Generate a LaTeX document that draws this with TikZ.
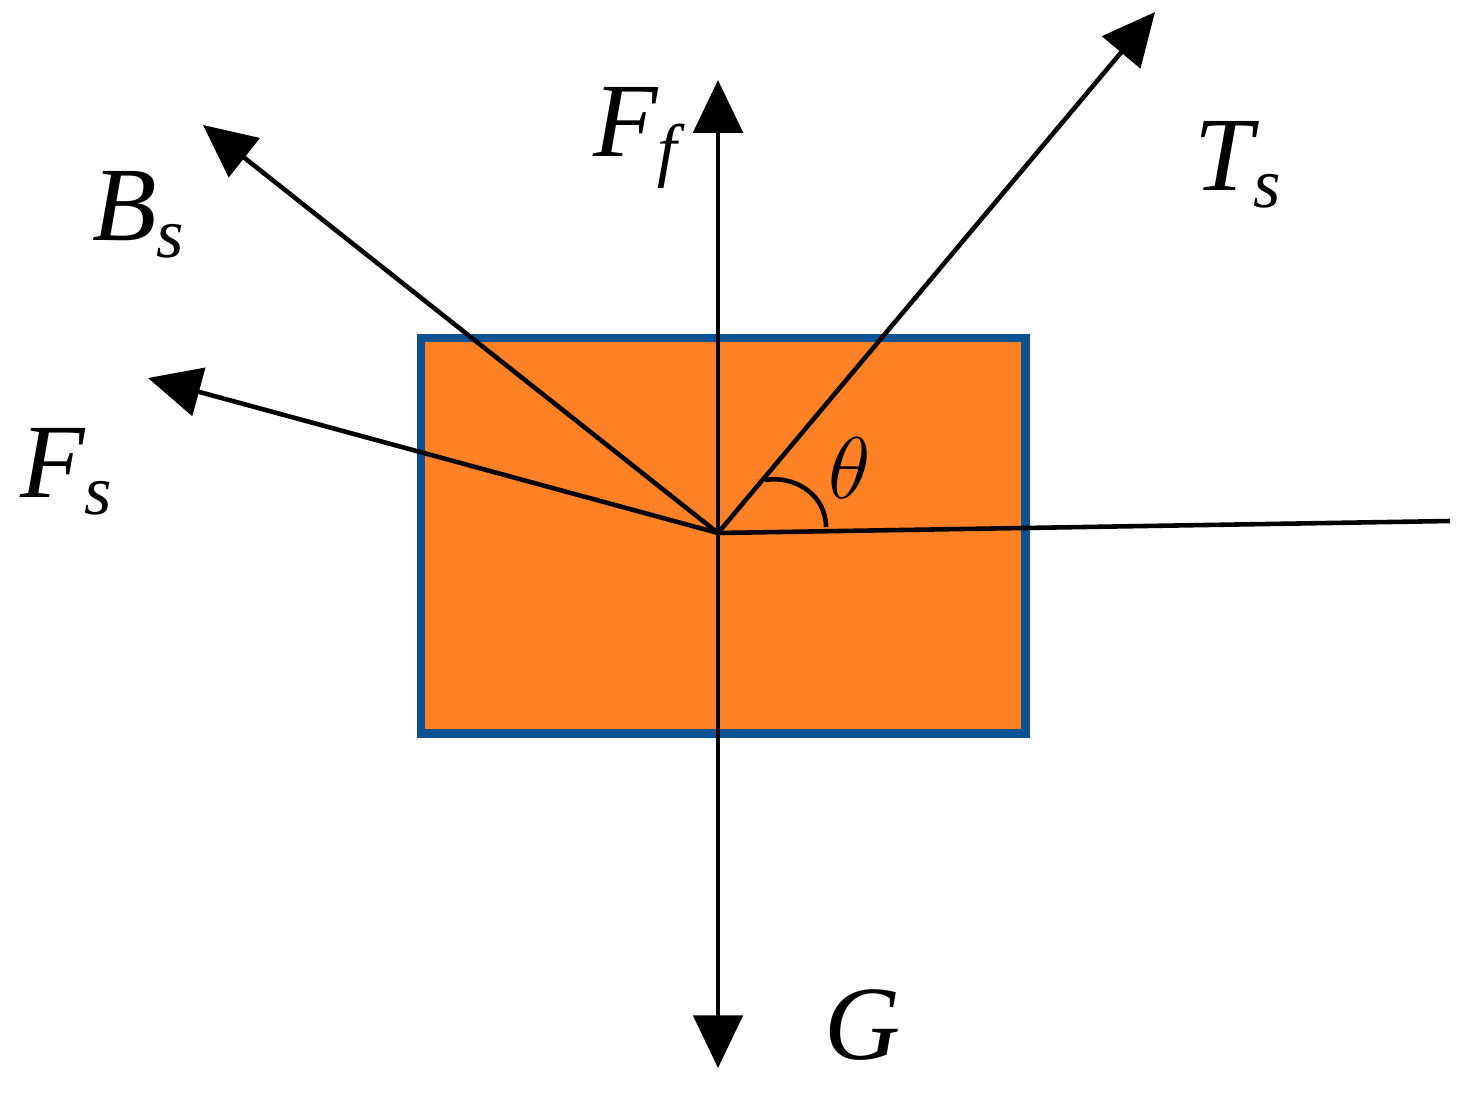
\documentclass[tikz,border=0pt]{standalone}
\usepackage{fontspec}
\setmainfont{Liberation Serif}
\usetikzlibrary{arrows.meta}
\newcommand{\lab}[2]{\textit{#1}\raisebox{-0.35ex}{\fontsize{20}{20}\selectfont\itshape #2}}
\begin{document}
\begin{tikzpicture}[x=0.01cm,y=-0.01cm,
  force/.style={line width=1.3pt,-{Triangle[length=15pt,width=14pt]}},
  lbl/.style={font=\fontsize{30}{32}\selectfont\itshape}]
\useasboundingbox (0,0) rectangle (1470,1115);
\definecolor{box}{HTML}{FF8125}
\definecolor{edge}{HTML}{0B5394}
\node[draw=edge,fill=box,line width=2.4pt,minimum width=6.04cm,minimum height=3.95cm,anchor=north west,inner sep=0] (blk) at (417,334) {};
\coordinate (O) at (718,533);
\coordinate (Ff) at (718,80);
\coordinate (G) at (718,1068);
\coordinate (Ts) at (1155,12);
\coordinate (Bs) at (203,125);
\coordinate (Fs) at (148,378);
\coordinate (H) at (1450,521);
\draw[force] (O) -- (Ff);
\draw[force] (O) -- (G);
\draw[force] (O) -- (Ts);
\draw[force] (O) -- (Bs);
\draw[force] (O) -- (Fs);
\draw[line width=1.3pt] (O) -- (H);
\draw[line width=1.3pt] (826,527) .. controls (826,495) and (795,475) .. (765,480);
\node[lbl] (lFf) at (635,138) {\lab{F}{f}};
\node[lbl] (lTs) at (1238,165) {\lab{T}{s}};
\node[lbl] (lBs) at (138,215) {\lab{B}{s}};
\node[lbl] (lFs) at (66,472) {\lab{F}{s}};
\node[lbl] (lth) at (850,468) {$\theta$};
\node[lbl] (lG) at (863,1025) {G};
\end{tikzpicture}
\end{document}
